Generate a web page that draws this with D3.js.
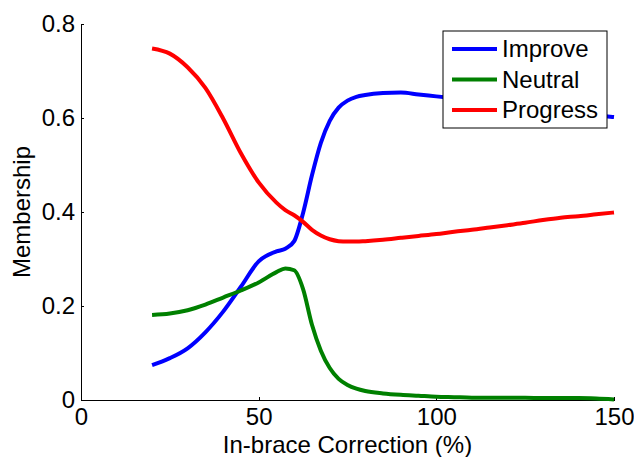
<!DOCTYPE html>
<html>
<head>
<meta charset="utf-8">
<script src="https://cdn.jsdelivr.net/npm/d3@7/dist/d3.min.js"></script>
<style>
  html, body { margin: 0; padding: 0; background: #fff; }
  svg { display: block; font-family: "Liberation Sans", Arial, sans-serif; }
  .axis path, .axis line { stroke: #000; stroke-width: 1; shape-rendering: crispEdges; }
  .axis text { font-size: 24px; fill: #000; }
</style>
</head>
<body>
<svg id="chart" width="634" height="457"></svg>
<script>
// In-brace correction (%) sample points
const correction = [20, 25, 30, 35, 40, 45, 50, 55, 57.5, 60, 62.5, 65, 67.5, 70, 72.5, 75, 77.5, 80,
  85, 90, 95, 100, 105, 110, 115, 120, 125, 130, 135, 140, 145, 150];

// Membership values per class
const improve = [0.074, 0.089, 0.110, 0.144, 0.188, 0.241, 0.295, 0.316, 0.322, 0.338, 0.398, 0.478,
  0.547, 0.594, 0.622, 0.637, 0.645, 0.649, 0.653, 0.654, 0.650, 0.646, 0.642, 0.638, 0.634, 0.630,
  0.625, 0.620, 0.615, 0.610, 0.606, 0.602];
const neutral = [0.181, 0.184, 0.191, 0.203, 0.218, 0.233, 0.250, 0.272, 0.280, 0.276, 0.236, 0.160,
  0.105, 0.068, 0.045, 0.032, 0.024, 0.019, 0.014, 0.011, 0.009, 0.007, 0.006, 0.005, 0.005, 0.005,
  0.005, 0.004, 0.004, 0.004, 0.003, 0.001];
const progress = [0.748, 0.737, 0.708, 0.664, 0.599, 0.525, 0.463, 0.420, 0.404, 0.393, 0.379, 0.362,
  0.350, 0.342, 0.338, 0.337, 0.337, 0.338, 0.341, 0.345, 0.349, 0.353, 0.358, 0.362, 0.367, 0.372,
  0.377, 0.383, 0.388, 0.391, 0.395, 0.399];

const seriesNames = ["Improve", "Neutral", "Progress"];
const seriesColors = ["#0000ff", "#008000", "#ff0000"];
const xTicks = [0, 50, 100, 150];
const yTicks = [0, 0.2, 0.4, 0.6, 0.8];

const svg = d3.select("#chart");
const x = d3.scaleLinear().domain([0, 150]).range([81, 614]);
const y = d3.scaleLinear().domain([0, 0.8]).range([400, 24]);

// Axes with short inward ticks
svg.append("g")
  .attr("class", "axis")
  .attr("transform", "translate(0,400)")
  .call(d3.axisBottom(x).tickValues(xTicks).tickSizeInner(-3).tickSizeOuter(0).tickPadding(8));

svg.append("g")
  .attr("class", "axis")
  .attr("transform", "translate(81,0)")
  .call(d3.axisLeft(y).tickValues(yTicks).tickSizeInner(-3).tickSizeOuter(0).tickPadding(6)
    .tickFormat(d => d === 0 ? "0" : d3.format(".1f")(d)));

// Axis titles
svg.append("text")
  .attr("x", (81 + 614) / 2)
  .attr("y", 453)
  .attr("text-anchor", "middle")
  .style("font-size", "24px")
  .text("In-brace Correction (%)");

svg.append("text")
  .attr("transform", "translate(30,212) rotate(-90)")
  .attr("text-anchor", "middle")
  .style("font-size", "24px")
  .text("Membership");

// Membership curves
const line = d3.line()
  .x((d, i) => x(correction[i]))
  .y(d => y(d))
  .curve(d3.curveMonotoneX);

[improve, neutral, progress].forEach((vals, k) => {
  svg.append("path")
    .datum(vals)
    .attr("fill", "none")
    .attr("stroke", seriesColors[k])
    .attr("stroke-width", 4)
    .attr("stroke-linejoin", "round")
    .attr("d", line);
});

// Legend
const legend = svg.append("g").attr("transform", "translate(443,31)");
legend.append("rect")
  .attr("width", 164).attr("height", 97)
  .attr("fill", "#fff").attr("stroke", "#000").attr("stroke-width", 1);
seriesNames.forEach((name, k) => {
  const yy = 18 + k * 30.5;
  legend.append("line")
    .attr("x1", 9).attr("x2", 54).attr("y1", yy).attr("y2", yy)
    .attr("stroke", seriesColors[k]).attr("stroke-width", 4);
  legend.append("text")
    .attr("x", 59).attr("y", yy)
    .attr("dy", "0.35em")
    .style("font-size", "24px")
    .text(name);
});
</script>
</body>
</html>
